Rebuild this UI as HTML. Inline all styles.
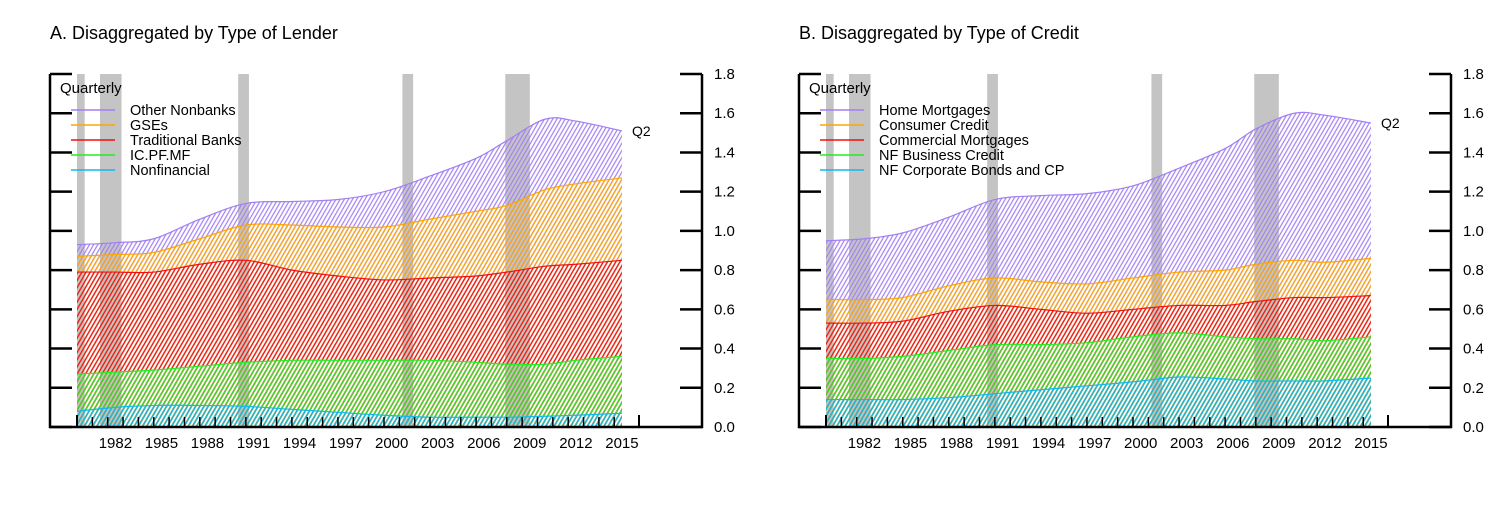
<!DOCTYPE html>
<html><head><meta charset="utf-8"><style>
html,body{margin:0;padding:0;background:#fff;}
svg{display:block;font-family:"Liberation Sans",Arial,sans-serif;}
</style></head><body>
<svg id="chart" width="1500" height="526"></svg>
<script>
// ---- data ----
const recessions = [[1980.0,1980.5],[1981.5,1982.9],[1990.5,1991.2],[2001.2,2001.9],[2007.9,2009.5]];
const yTicks = [0.0,0.2,0.4,0.6,0.8,1.0,1.2,1.4,1.6,1.8];
const yearLabels = [1982,1985,1988,1991,1994,1997,2000,2003,2006,2009,2012,2015];
// Panel A: cumulative stack tops
const aYears = [1980,1982.5,1985,1988,1991,1994,1997,2000,2003,2006,2008,2010.5,2012.5,2015.5];
const aNonfin = [0.08,0.10,0.11,0.11,0.105,0.09,0.075,0.06,0.05,0.05,0.05,0.055,0.06,0.07];
const aIns    = [0.27,0.28,0.29,0.31,0.33,0.34,0.34,0.34,0.34,0.33,0.32,0.32,0.34,0.36];
const aBanks  = [0.79,0.79,0.79,0.83,0.85,0.80,0.77,0.75,0.76,0.77,0.79,0.82,0.83,0.85];
const aGSE    = [0.87,0.88,0.89,0.96,1.03,1.03,1.02,1.02,1.06,1.10,1.13,1.21,1.24,1.27];
const aOther  = [0.93,0.94,0.96,1.06,1.14,1.15,1.16,1.20,1.28,1.37,1.46,1.57,1.56,1.51];
// Panel B
const bYears = aYears;
const bBonds  = [0.14,0.14,0.14,0.15,0.17,0.19,0.21,0.23,0.255,0.245,0.235,0.235,0.235,0.25];
const bBus    = [0.35,0.35,0.36,0.39,0.42,0.42,0.43,0.46,0.48,0.46,0.45,0.45,0.44,0.46];
const bComm   = [0.53,0.53,0.54,0.59,0.62,0.60,0.58,0.60,0.62,0.62,0.64,0.66,0.66,0.67];
const bCons   = [0.65,0.65,0.66,0.72,0.76,0.74,0.73,0.76,0.79,0.80,0.83,0.85,0.84,0.86];
const bHome   = [0.95,0.96,0.99,1.07,1.16,1.18,1.19,1.23,1.32,1.42,1.52,1.60,1.59,1.55];

const NS="http://www.w3.org/2000/svg";
const svg=document.getElementById('chart');
function mk(tag,attrs,parent){const e=document.createElementNS(NS,tag);for(const k in attrs)e.setAttribute(k,attrs[k]);(parent||svg).appendChild(e);return e;}

const colors={purple:'#a27ff2',orange:'#ffa500',red:'#f01010',green:'#22ee22',cyan:'#10b8f0'};
const defs=mk('defs',{});
for(const k in colors){
  const p=mk('pattern',{id:'h-'+k,patternUnits:'userSpaceOnUse',width:3.6,height:10,patternTransform:'rotate(30)'},defs);
  mk('line',{x1:1.8,y1:0,x2:1.8,y2:10,stroke:colors[k],'stroke-width':1.2},p);
}

function drawPanel(ox,title,years,series,names,colKeys,id){
  const X0=ox+77, PX=15.35, Y0=427, PY=196.1;
  const xs=v=>X0+(v-1980)*PX, ys=v=>Y0-v*PY;
  const left=ox+50, right=ox+702, top=74;
  const g=mk('g',{});
  
  
  const t=mk('text',{x:ox+50,y:39,'font-size':18,fill:'#000'},g);t.textContent=title;
  
  recessions.forEach((r,i)=>{
    const b=mk('rect',{x:xs(r[0]),y:top,width:xs(r[1])-xs(r[0]),height:Y0-top,fill:'#c4c4c4'},g);
    
  });
  function curve(vals){
    const pts=years.map((y,i)=>[xs(y),ys(vals[i])]);
    let d='';
    for(let i=0;i<pts.length-1;i++){
      const p0=pts[Math.max(0,i-1)],p1=pts[i],p2=pts[i+1],p3=pts[Math.min(pts.length-1,i+2)];
      const c1=[p1[0]+(p2[0]-p0[0])/6,p1[1]+(p2[1]-p0[1])/6];
      const c2=[p2[0]-(p3[0]-p1[0])/6,p2[1]-(p3[1]-p1[1])/6];
      d+=(i===0?'M'+p1[0]+','+p1[1]:'')+' C'+c1+' '+c2+' '+p2;
    }
    return d;
  }
  for(let s=series.length-1;s>=0;s--){
    const d=curve(series[s]);
    const area=d+' L'+xs(years[years.length-1])+','+Y0+' L'+xs(years[0])+','+Y0+' Z';
    const a2=mk('path',{d:area,fill:'url(#h-'+colKeys[s]+')'},g);
    
    
    mk('path',{d:d,fill:'none',stroke:colors[colKeys[s]],'stroke-width':1.2},g);
  }
  const ax=mk('path',{d:`M${left},${top} V${Y0} H${right} V${top}`,fill:'none',stroke:'#000','stroke-width':2.5},g);
  
  yTicks.forEach(v=>{
    mk('line',{x1:left,x2:left+22,y1:ys(v),y2:ys(v),stroke:'#000','stroke-width':2.5},g);
    mk('line',{x1:right-22,x2:right,y1:ys(v),y2:ys(v),stroke:'#000','stroke-width':2.5},g);
    const l=mk('text',{x:right+12,y:ys(v)+5,'font-size':15,fill:'#000'},g);l.textContent=v.toFixed(1);
    
  });
  for(let y=1981;y<=2015;y++) mk('line',{x1:xs(y),x2:xs(y),y1:Y0-10,y2:Y0,stroke:'#000','stroke-width':1.5},g);
  mk('line',{x1:ox+77,x2:ox+77,y1:Y0-12,y2:Y0,stroke:'#000','stroke-width':2},g);
  mk('line',{x1:ox+639,x2:ox+639,y1:Y0-12,y2:Y0,stroke:'#000','stroke-width':2},g);
  yearLabels.forEach(y=>{
    const l=mk('text',{x:xs(y+0.5),y:448,'font-size':15,'text-anchor':'middle',fill:'#000'},g);l.textContent=y;
    
  });
  const q=mk('text',{x:ox+632,y:ys(series[series.length-1][years.length-1])+5,'font-size':14,fill:'#000'},g);q.textContent='Q2';
  
  const lq=mk('text',{x:ox+60,y:93,'font-size':15,fill:'#000'},g);lq.textContent='Quarterly';
  
  for(let i=0;i<names.length;i++){
    const s=names.length-1-i;
    const yy=110+i*15;
    mk('line',{x1:ox+71,x2:ox+115,y1:yy,y2:yy,stroke:colors[colKeys[s]],'stroke-width':1.5},g);
    const l=mk('text',{x:ox+130,y:yy+5,'font-size':14.5,fill:'#000'},g);l.textContent=names[s];
    
  }
}
drawPanel(0,'A. Disaggregated by Type of Lender',aYears,[aNonfin,aIns,aBanks,aGSE,aOther],
  ['Nonfinancial','IC.PF.MF','Traditional Banks','GSEs','Other Nonbanks'],['cyan','green','red','orange','purple'],'lender');
drawPanel(749,'B. Disaggregated by Type of Credit',bYears,[bBonds,bBus,bComm,bCons,bHome],
  ['NF Corporate Bonds and CP','NF Business Credit','Commercial Mortgages','Consumer Credit','Home Mortgages'],['cyan','green','red','orange','purple'],'credit');
</script>
</body></html>
